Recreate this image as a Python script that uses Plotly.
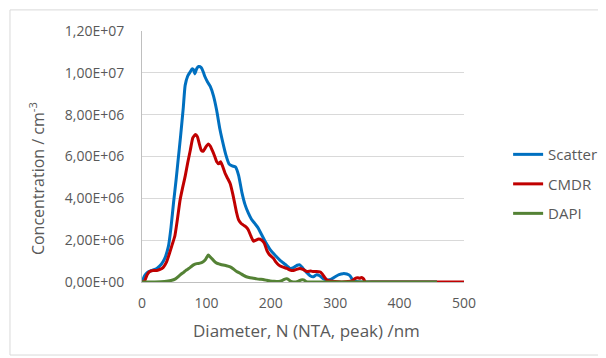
import plotly.graph_objects as go

# ---- data (diameter in nm, concentration in cm^-3) ----
scatter_x = [0, 4, 8, 15, 23, 30, 35, 41, 45, 49, 53, 56, 60, 64, 67, 71, 75, 78, 80, 82, 85, 88, 92, 95, 98,
             102, 106, 111, 116, 121, 126, 130, 135, 140, 145, 150, 155, 160, 165, 170, 175, 180, 186, 192,
             199, 206, 214, 222, 230, 236, 241, 245, 250, 256, 261, 266, 271, 276, 282, 287, 293, 300, 306,
             312, 318, 323, 327, 332, 340, 350, 400, 458]
scatter_y = [0, 0.3, 0.45, 0.55, 0.65, 0.85, 1.1, 1.7, 2.6, 3.8, 4.9, 5.8, 7.0, 8.3, 9.4, 9.85, 10.05, 10.2,
             10.15, 9.95, 10.2, 10.3, 10.25, 10.05, 9.8, 9.55, 9.35, 8.9, 8.2, 7.3, 6.6, 6.1, 5.65, 5.55, 5.5,
             5.1, 4.3, 3.7, 3.3, 3.0, 2.8, 2.6, 2.25, 1.9, 1.55, 1.3, 1.05, 0.85, 0.65, 0.7, 0.8, 0.82, 0.65,
             0.45, 0.3, 0.25, 0.35, 0.3, 0.15, 0.1, 0.12, 0.25, 0.35, 0.4, 0.38, 0.3, 0.1, 0.03, 0, 0, 0, 0]

cmdr_x = [0, 4, 8, 12, 18, 23, 28, 33, 38, 43, 47, 51, 55, 59, 63, 67, 71, 75, 79, 83, 86, 89, 92, 95, 99,
          103, 106, 109, 113, 116, 119, 122, 125, 129, 133, 137, 141, 144, 147, 150, 154, 157, 161, 165, 169,
          173, 177, 181, 186, 190, 194, 198, 204, 208, 212, 218, 225, 230, 235, 240, 245, 250, 256, 262, 266,
          271, 276, 279, 283, 287, 292, 300, 310, 320, 326, 330, 335, 338, 341, 344, 347, 360, 400, 500]
cmdr_y = [0, 0.05, 0.35, 0.5, 0.55, 0.55, 0.6, 0.7, 0.95, 1.4, 1.8, 2.2, 3.0, 3.9, 4.5, 5.05, 5.7, 6.3, 6.9,
          7.05, 6.95, 6.6, 6.3, 6.25, 6.45, 6.6, 6.5, 6.3, 6.0, 5.75, 5.65, 5.75, 5.55, 5.2, 4.95, 4.7, 4.2,
          3.75, 3.3, 2.97, 2.8, 2.73, 2.65, 2.5, 2.2, 1.95, 2.0, 2.05, 2.0, 1.85, 1.5, 1.3, 1.13, 0.95, 0.82,
          0.72, 0.65, 0.57, 0.55, 0.6, 0.65, 0.6, 0.5, 0.52, 0.5, 0.5, 0.48, 0.42, 0.25, 0.1, 0.05, 0.02, 0,
          0.02, 0.05, 0.15, 0.2, 0.18, 0.22, 0.15, 0, 0, 0, 0]

dapi_x = [0, 20, 35, 45, 52, 59, 64, 69, 75, 80, 85, 90, 95, 98, 101, 103, 106, 108, 112, 116, 121, 126, 131,
          137, 142, 147, 152, 157, 162, 168, 173, 178, 183, 188, 194, 199, 205, 212, 218, 223, 226, 230, 235,
          242, 247, 251, 255, 260, 300, 400, 458]
dapi_y = [0, 0, 0.02, 0.07, 0.15, 0.33, 0.45, 0.57, 0.7, 0.82, 0.88, 0.9, 0.97, 1.05, 1.2, 1.29, 1.2, 1.13,
          1.0, 0.9, 0.85, 0.81, 0.78, 0.72, 0.62, 0.5, 0.42, 0.33, 0.25, 0.2, 0.18, 0.15, 0.13, 0.12, 0.08,
          0.05, 0.03, 0.03, 0.08, 0.15, 0.15, 0.05, 0, 0.03, 0.1, 0.1, 0.02, 0, 0, 0, 0]

series_names = ["Scatter", "CMDR", "DAPI"]
series_colors = ["#0070C0", "#C00000", "#548235"]

y_tickvals = [0, 2e6, 4e6, 6e6, 8e6, 1e7, 1.2e7]
y_ticktext = ["0,00E+00", "2,00E+06", "4,00E+06", "6,00E+06", "8,00E+06", "1,00E+07", "1,20E+07"]
x_tickvals = [0, 100, 200, 300, 400, 500]

x_title = "Diameter, N (NTA, peak) /nm"
y_title = "Concentration / cm<sup>-3</sup>"

FONT = "Open Sans"
GREY = "#595959"

fig = go.Figure()
for name, xs, ys, col in zip(series_names,
                             [scatter_x, cmdr_x, dapi_x],
                             [scatter_y, cmdr_y, dapi_y],
                             series_colors):
    fig.add_trace(go.Scatter(
        x=xs, y=[v * 1e6 for v in ys], name=name, mode="lines",
        line=dict(color=col, width=3, shape="spline", smoothing=0.5),
        legendgroup=name, cliponaxis=False,
    ))

fig.update_layout(
    width=606, height=358,
    margin=dict(l=134, r=150, t=23, b=84),
    paper_bgcolor="white", plot_bgcolor="white",
    font=dict(family=FONT, color=GREY, size=14),
    showlegend=True,
    legend=dict(x=1.137, y=0.39, xanchor="left", yanchor="middle",
                font=dict(family=FONT, size=15, color=GREY),
                tracegroupgap=7, bgcolor="rgba(0,0,0,0)"),
    xaxis=dict(range=[0, 500], tickvals=x_tickvals, showgrid=False,
               showline=True, linecolor="#BFBFBF", linewidth=1,
               ticks="", ticklabelstandoff=8, zeroline=False,
               tickfont=dict(family=FONT, size=14, color=GREY)),
    yaxis=dict(range=[0, 1.2e7], tickvals=y_tickvals, ticktext=y_ticktext,
               showgrid=True, gridcolor="#D9D9D9", gridwidth=1,
               showline=True, linecolor="#BFBFBF", linewidth=1,
               ticks="", ticklabelstandoff=14, zeroline=False,
               tickfont=dict(family=FONT, size=14, color=GREY)),
    annotations=[
        dict(text=x_title, xref="paper", yref="paper", x=0.512, y=-0.195,
             xanchor="center", yanchor="middle", showarrow=False,
             font=dict(family=FONT, size=17, color=GREY)),
        dict(text=y_title, xref="paper", yref="paper", x=-0.326, y=0.41,
             xanchor="center", yanchor="middle", showarrow=False, textangle=-90,
             font=dict(family=FONT, size=16, color=GREY)),
    ],
    shapes=[dict(type="rect", xref="paper", yref="paper",
                 x0=-0.41, x1=1.45, y0=-0.291, y1=1.084,
                 line=dict(color="#D9D9D9", width=1), fillcolor="rgba(0,0,0,0)",
                 layer="below")],
)

fig.write_html("out.html")
